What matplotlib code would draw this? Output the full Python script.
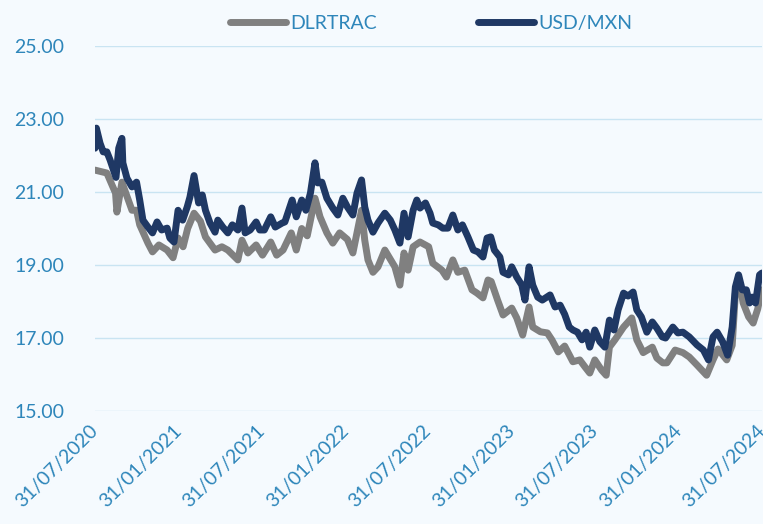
import matplotlib
matplotlib.use("Agg")
import matplotlib.pyplot as plt
import matplotlib.dates as mdates
import pandas as pd

# USD/MXN spot
usd_dates = ["2020-07-31", "2020-08-03", "2020-08-11", "2020-08-18", "2020-08-26", "2020-09-02",
             "2020-09-08", "2020-09-15", "2020-09-21", "2020-09-28", "2020-09-30", "2020-10-09",
             "2020-10-20", "2020-10-30", "2020-11-06", "2020-11-13", "2020-11-24", "2020-12-04",
             "2020-12-14", "2020-12-24", "2021-01-05", "2021-01-11", "2021-01-20", "2021-01-29",
             "2021-02-08", "2021-02-18", "2021-02-24", "2021-03-05", "2021-03-15", "2021-03-23",
             "2021-03-30", "2021-04-09", "2021-04-20", "2021-04-26", "2021-05-07", "2021-05-18",
             "2021-05-28", "2021-06-09", "2021-06-18", "2021-06-25", "2021-07-06", "2021-07-19",
             "2021-07-27", "2021-08-06", "2021-08-20", "2021-08-30", "2021-09-14", "2021-09-20",
             "2021-10-06", "2021-10-15", "2021-10-27", "2021-11-05", "2021-11-15", "2021-11-25",
             "2021-12-01", "2021-12-10", "2021-12-21", "2022-01-03", "2022-01-14", "2022-01-25",
             "2022-02-04", "2022-02-16", "2022-02-25", "2022-03-07", "2022-03-14", "2022-03-21",
             "2022-04-01", "2022-04-12", "2022-04-27", "2022-05-09", "2022-05-19", "2022-05-30",
             "2022-06-08", "2022-06-17", "2022-06-28", "2022-07-06", "2022-07-13", "2022-07-25",
             "2022-08-04", "2022-08-10", "2022-08-22", "2022-09-01", "2022-09-12", "2022-09-23",
             "2022-10-04", "2022-10-14", "2022-10-26", "2022-11-07", "2022-11-17", "2022-11-28",
             "2022-12-07", "2022-12-15", "2022-12-23", "2023-01-04", "2023-01-11", "2023-01-23",
             "2023-01-30", "2023-02-10", "2023-02-21", "2023-02-28", "2023-03-09", "2023-03-17",
             "2023-03-28", "2023-04-07", "2023-04-24", "2023-05-05", "2023-05-16", "2023-05-26",
             "2023-06-05", "2023-06-13", "2023-06-23", "2023-07-03", "2023-07-12", "2023-07-20",
             "2023-07-31", "2023-08-11", "2023-08-22", "2023-09-01", "2023-09-11", "2023-09-20",
             "2023-10-02", "2023-10-12", "2023-10-23", "2023-10-31", "2023-11-10", "2023-11-22",
             "2023-12-04", "2023-12-14", "2023-12-26", "2024-01-02", "2024-01-18", "2024-01-29",
             "2024-02-09", "2024-02-23", "2024-03-11", "2024-03-25", "2024-04-05", "2024-04-15",
             "2024-04-24", "2024-05-06", "2024-05-17", "2024-05-27", "2024-06-03", "2024-06-10",
             "2024-06-18", "2024-06-27", "2024-07-04", "2024-07-10", "2024-07-17", "2024-07-26",
             "2024-07-31"]
usd_values = [22.2, 22.75, 22.34, 22.1, 22.1, 21.88,
              21.66, 21.4, 22.2, 22.47, 21.8, 21.38,
              21.14, 21.27, 20.78, 20.23, 20.04, 19.88,
              20.18, 19.96, 20.01, 19.74, 19.63, 20.5,
              20.23, 20.59, 20.86, 21.45, 20.7, 20.92,
              20.5, 20.15, 19.9, 20.23, 20.04, 19.88,
              20.1, 19.96, 20.56, 19.88, 19.96, 20.18,
              19.96, 19.96, 20.32, 20.04, 20.15, 20.18,
              20.78, 20.32, 20.78, 20.5, 20.97, 21.8,
              21.25, 21.27, 20.83, 20.56, 20.37, 20.83,
              20.59, 20.37, 20.97, 21.33, 20.59, 20.23,
              19.9, 20.15, 20.42, 20.23, 19.96, 19.6,
              20.42, 19.77, 20.5, 20.78, 20.56, 20.7,
              20.42, 20.15, 20.1, 20.01, 20.01, 20.37,
              19.96, 20.1, 19.77, 19.41, 19.36, 19.22,
              19.74, 19.77, 19.41, 19.22, 18.8, 18.73,
              18.95, 18.67, 18.45, 18.04, 18.95, 18.45,
              18.12, 18.04, 18.18, 17.85, 17.9, 17.65,
              17.3, 17.22, 17.16, 16.95, 17.16, 16.75,
              17.22, 16.9, 16.75, 17.49, 17.22, 17.77,
              18.23, 18.15, 18.26, 17.77, 17.58, 17.16,
              17.44, 17.27, 17.03, 17.0, 17.3, 17.14,
              17.16, 17.03, 16.81, 16.67, 16.4, 17.03,
              17.16, 16.9, 16.53, 17.3, 18.4, 18.73,
              18.32, 18.32, 17.96, 18.12, 17.96, 18.73,
              18.78]

# DLRTRAC
dlr_dates = ["2020-07-31", "2020-08-26", "2020-09-14", "2020-09-17", "2020-09-28", "2020-10-20",
             "2020-10-30", "2020-11-06", "2020-11-24", "2020-12-04", "2020-12-18", "2021-01-05",
             "2021-01-18", "2021-01-29", "2021-02-09", "2021-02-19", "2021-03-05", "2021-03-19",
             "2021-03-30", "2021-04-20", "2021-05-05", "2021-05-18", "2021-06-09", "2021-06-18",
             "2021-07-01", "2021-07-19", "2021-08-02", "2021-08-20", "2021-09-02", "2021-09-16",
             "2021-10-04", "2021-10-15", "2021-10-27", "2021-11-08", "2021-11-25", "2021-12-06",
             "2021-12-21", "2022-01-03", "2022-01-18", "2022-02-04", "2022-02-16", "2022-03-07",
             "2022-03-14", "2022-03-21", "2022-04-01", "2022-04-12", "2022-04-27", "2022-05-19",
             "2022-05-30", "2022-06-08", "2022-06-17", "2022-06-28", "2022-07-13", "2022-08-01",
             "2022-08-10", "2022-08-30", "2022-09-09", "2022-09-23", "2022-10-04", "2022-10-19",
             "2022-11-04", "2022-11-15", "2022-11-28", "2022-12-09", "2022-12-16", "2022-12-30",
             "2023-01-11", "2023-01-30", "2023-02-10", "2023-02-23", "2023-03-09", "2023-03-17",
             "2023-04-03", "2023-04-18", "2023-04-28", "2023-05-12", "2023-05-26", "2023-06-13",
             "2023-06-28", "2023-07-10", "2023-07-20", "2023-07-31", "2023-08-15", "2023-08-25",
             "2023-09-01", "2023-09-13", "2023-10-02", "2023-10-20", "2023-10-31", "2023-11-14",
             "2023-12-04", "2023-12-14", "2023-12-27", "2024-01-05", "2024-01-23", "2024-02-09",
             "2024-02-23", "2024-03-11", "2024-04-01", "2024-04-15", "2024-04-26", "2024-05-15",
             "2024-05-27", "2024-06-03", "2024-06-14", "2024-06-20", "2024-07-02", "2024-07-12",
             "2024-07-22", "2024-07-29", "2024-07-31"]
dlr_values = [21.6, 21.52, 20.97, 20.45, 21.27, 20.5,
              20.5, 20.1, 19.6, 19.36, 19.55, 19.41,
              19.2, 19.74, 19.5, 20.0, 20.42, 20.2,
              19.77, 19.41, 19.5, 19.41, 19.14, 19.68,
              19.33, 19.55, 19.27, 19.63, 19.27, 19.41,
              19.88, 19.41, 20.0, 19.8, 20.83, 20.32,
              19.88, 19.6, 19.88, 19.7, 19.33, 20.5,
              19.68, 19.14, 18.8, 18.95, 19.41, 18.95,
              18.45, 19.33, 18.86, 19.5, 19.63, 19.5,
              19.05, 18.86, 18.67, 19.14, 18.8, 18.86,
              18.32, 18.23, 18.1, 18.59, 18.55, 18.04,
              17.63, 17.82, 17.55, 17.08, 17.85, 17.3,
              17.17, 17.14, 16.95, 16.62, 16.78, 16.35,
              16.4, 16.2, 16.04, 16.4, 16.12, 15.98,
              16.75, 16.95, 17.3, 17.55, 16.95, 16.6,
              16.75, 16.45, 16.32, 16.32, 16.67, 16.6,
              16.48, 16.26, 15.98, 16.4, 16.7, 16.4,
              16.8, 18.23, 18.4, 17.96, 17.58, 17.41,
              17.8, 18.23, 18.32]

tick_dates = ["2020-07-31", "2021-01-31", "2021-07-31", "2022-01-31", "2022-07-31",
              "2023-01-31", "2023-07-31", "2024-01-31", "2024-07-31"]

bg = "#F5FAFE"
text_color = "#2E86BA"
grid_color = "#C9E4F2"

plt.rcParams['font.family'] = ['Lato', 'DejaVu Sans']

fig = plt.figure(figsize=(7.63, 5.24), dpi=100, facecolor=bg)
ax = fig.add_axes([0.1245, 0.2156, 0.874, 0.6966], facecolor=bg)

ax.plot(pd.to_datetime(dlr_dates), dlr_values, color="#808080", lw=5,
        solid_capstyle="round", solid_joinstyle="round", label="DLRTRAC")
ax.plot(pd.to_datetime(usd_dates), usd_values, color="#1F3864", lw=5,
        solid_capstyle="round", solid_joinstyle="round", label="USD/MXN")

ax.set_ylim(15, 25)
ax.set_yticks([15, 17, 19, 21, 23, 25])
ax.yaxis.set_major_formatter(matplotlib.ticker.FormatStrFormatter("%.2f"))
ax.set_xlim(pd.Timestamp("2020-07-31"), pd.Timestamp("2024-07-31"))
ax.set_xticks(pd.to_datetime(tick_dates))
ax.xaxis.set_major_formatter(mdates.DateFormatter("%d/%m/%Y"))

ax.grid(axis="y", color=grid_color, lw=1)
ax.set_axisbelow(True)
for s in ax.spines.values():
    s.set_visible(False)
ax.tick_params(axis="both", length=0, colors=text_color, labelsize=14)
ax.tick_params(axis="y", pad=22)
ax.tick_params(axis="x", pad=12)
for lbl in ax.get_xticklabels():
    lbl.set_rotation(45)
    lbl.set_ha("right")
    lbl.set_va("center")
    lbl.set_rotation_mode("anchor")

leg = fig.legend(loc="upper center", bbox_to_anchor=(0.565, 1.005), ncol=2, frameon=False,
                 fontsize=14, handlelength=2.9, handletextpad=0.2, columnspacing=5.2)
for t in leg.get_texts():
    t.set_color(text_color)

fig.savefig("out.png", dpi=100, facecolor=bg)
